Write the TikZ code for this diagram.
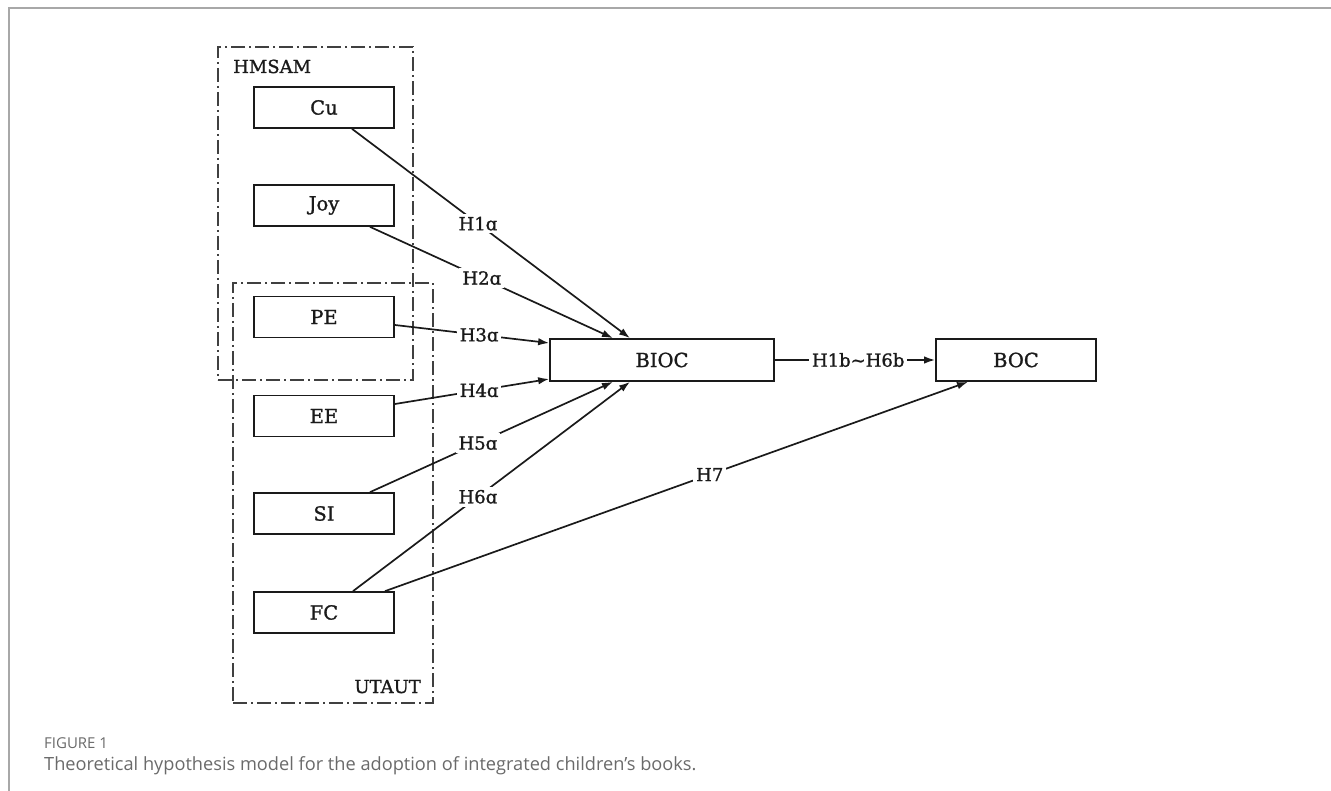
\documentclass[tikz,border=0pt]{standalone}
\usepackage{fontspec}
\setmainfont{DejaVu Serif}
\newfontfamily\dgfont{DejaVu Serif}[FakeBold=1.2]
\newfontfamily\capfont{Open Sans}
\usetikzlibrary{arrows.meta,calc}
\definecolor{framegray}{HTML}{A8A8A8}
\definecolor{capgray}{HTML}{6A6A6A}
\definecolor{linecol}{HTML}{1A1A1A}
\definecolor{grpcol}{HTML}{404040}
\begin{document}
\begin{tikzpicture}[x=1pt,y=-1pt,
  dgtext/.style={font=\dgfont\fontsize{18}{21}\selectfont,text=linecol},
  box/.style={draw=linecol,line width=1.7pt,minimum width=140pt,minimum height=41pt,inner sep=0pt,dgtext,font=\dgfont\fontsize{19.5}{22}\selectfont},
  grp/.style={draw=grpcol,line width=1.4pt,dash pattern=on 14pt off 4pt on 2pt off 4pt,inner sep=0pt},
  conn/.style={draw=linecol,line width=1.7pt},
  arr/.style={conn,-{Latex[length=11pt,width=7.5pt]}},
  lbl/.style={fill=white,inner sep=3pt,dgtext},
  grplbl/.style={dgtext,inner sep=0pt},
  framel/.style={draw=framegray,line width=1.5pt}]
\useasboundingbox (0,0) rectangle (1331,791);
% frame
\coordinate (fbl) at (9,791);
\coordinate (ftl) at (9,8);
\coordinate (ftr) at (1331,8);
\draw[framel] (fbl) -- (ftl) -- (ftr);
% groups
\node[grp,minimum width=195pt,minimum height=333pt] (hmsam) at (315.5,213.5) {};
\node[grp,minimum width=200pt,minimum height=420pt] (utaut) at (333,493) {};
\node[grplbl,anchor=base west] (hmsamlbl) at (233,73) {HMSAM};
\node[grplbl,anchor=base east] (utautlbl) at (421,693) {UTAUT};
% boxes
\node[box] (cu) at (324,107.5) {Cu};
\node[box] (joy) at (324,205.5) {Joy};
\node[box] (pe) at (324,317) {PE};
\node[box] (ee) at (324,416) {EE};
\node[box] (si) at (324,513.5) {SI};
\node[box] (fc) at (324,612.5) {FC};
\node[box,minimum width=224pt,minimum height=42pt] (bioc) at (662,360) {BIOC};
\node[box,minimum width=160pt,minimum height=42pt] (boc) at (1016,360) {BOC};
% connectors
\draw[arr] ([xshift=28pt]cu.south) -- node[lbl,pos=0.453]{H1ɑ} ([xshift=-32pt]bioc.north);
\draw[arr] ([xshift=46pt]joy.south) -- node[lbl,pos=0.46]{H2ɑ} ([xshift=-49pt]bioc.north);
\draw[arr] ([yshift=-8pt]pe.east) -- node[lbl,pos=0.546]{H3ɑ} ([yshift=17pt]bioc.west);
\draw[arr] ([yshift=12pt]ee.east) -- node[lbl,pos=0.546]{H4ɑ} ([yshift=-19pt]bioc.west);
\draw[arr] ([xshift=46pt]si.north) -- node[lbl,pos=0.444]{H5ɑ} ([xshift=-49pt]bioc.south);
\draw[arr] ([xshift=29pt]fc.north) -- node[lbl,pos=0.451]{H6ɑ} ([xshift=-32pt]bioc.south);
\draw[arr] ([xshift=61pt]fc.north) -- node[lbl,pos=0.557]{H7} ([xshift=-48pt]boc.south);
\draw[arr] (bioc.east) -- node[lbl,pos=0.52]{H1b\textasciitilde H6b} (boc.west);
% caption
\node[anchor=base west,inner sep=0pt,text=capgray,font=\capfont\fontsize{15}{17}\selectfont] (figlbl) at (44,748) {FIGURE 1};
\node[anchor=base west,inner sep=0pt,text=capgray,font=\capfont\fontsize{18.2}{21}\selectfont] (caption) at (44,770) {Theoretical hypothesis model for the adoption of integrated children’s books.};
\end{tikzpicture}
\end{document}
